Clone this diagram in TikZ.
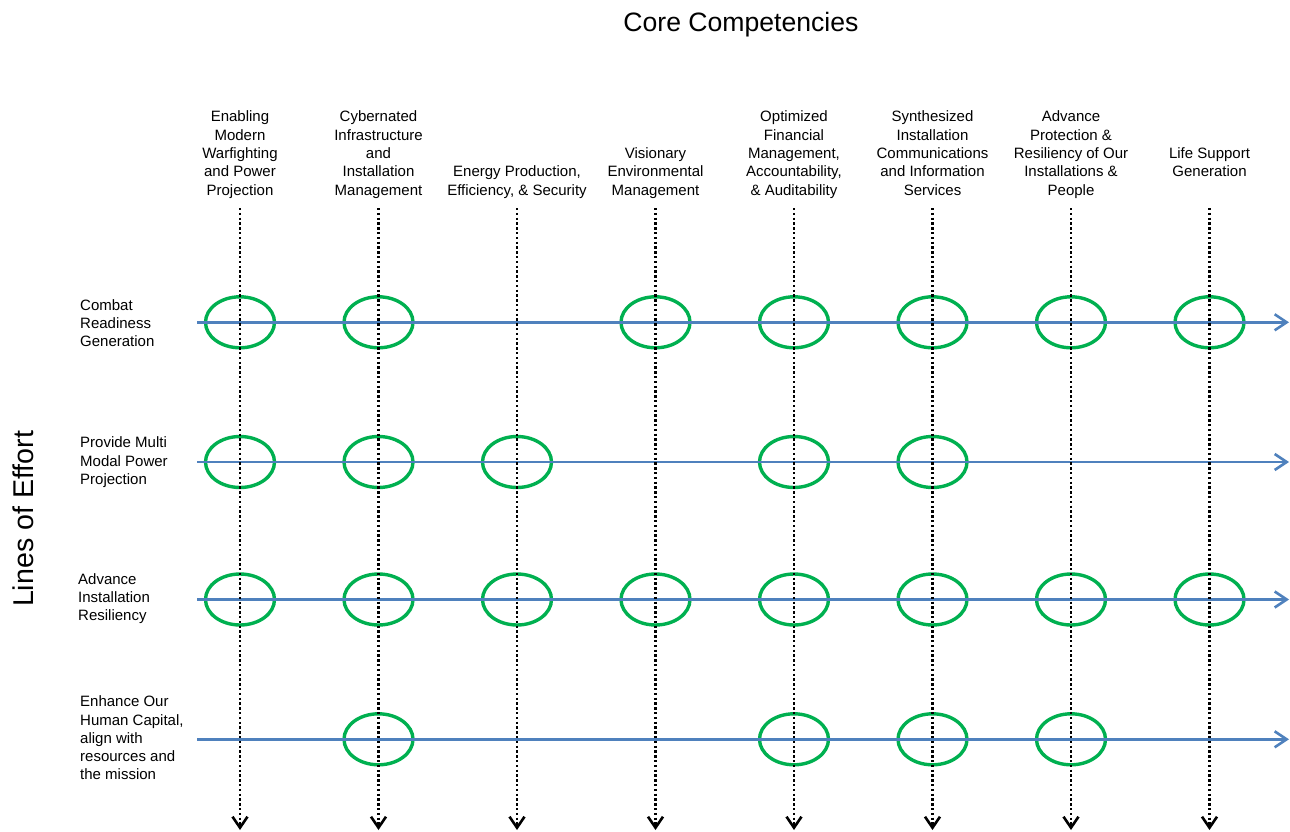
\documentclass[tikz,border=0pt]{standalone}
\usepackage{fontspec}
\setmainfont{Liberation Sans}
\usetikzlibrary{arrows.meta,shapes.geometric}
\definecolor{ringgreen}{RGB}{0,176,80}
\definecolor{loeblue}{RGB}{79,129,189}
\begin{document}
\begin{tikzpicture}[x=1pt,y=-1pt,
  lbl/.style={font=\fontsize{15}{18.3}\selectfont,inner sep=0pt,align=center,anchor=north},
  rowlbl/.style={font=\fontsize{15}{18.3}\selectfont,inner sep=0pt,align=left,anchor=north west},
  bigtxt/.style={font=\fontsize{26.6}{30}\selectfont,inner sep=0pt,anchor=base},
  ring/.style={ellipse,draw=ringgreen,line width=3.4pt,minimum width=69pt,minimum height=51pt,inner sep=0pt},
  hline/.style={draw=loeblue,line width=2.6pt,-{Straight Barb[length=12pt,width=16pt,line width=2.6pt]}},
  vline/.style={draw=black,line width=2.5pt,dash pattern=on 2.4pt off 2.4pt,-{Straight Barb[length=11pt,width=15pt,line width=2.6pt]}}
]
\useasboundingbox (0,0) rectangle (1290,832);
\fill[white] (0,0) rectangle (1290,832);

% titles
\node[bigtxt] (title) at (741,31.7) {Core Competencies};
\node[bigtxt,font=\fontsize{28.6}{32}\selectfont,rotate=90] (loe) at (33.3,519) {Lines of Effort};

% column labels
\def\ta{110.8}
\node[lbl] (c1) at (240,\ta) {Enabling\\Modern\\Warfighting\\and Power\\Projection};
\node[lbl] (c2) at (378.5,\ta) {Cybernated\\Infrastructure\\and\\Installation\\Management};
\node[lbl] (c3) at (517,165.7) {Energy Production,\\Efficiency, \& Security};
\node[lbl] (c4) at (655.5,147.4) {Visionary\\Environmental\\Management};
\node[lbl] (c5) at (794,\ta) {Optimized\\Financial\\Management,\\Accountability,\\\& Auditability};
\node[lbl] (c6) at (932.5,\ta) {Synthesized\\Installation\\Communications\\and Information\\Services};
\node[lbl] (c7) at (1071,\ta) {Advance\\Protection \&\\Resiliency of Our\\Installations \&\\People};
\node[lbl] (c8) at (1209.5,147.4) {Life Support\\Generation};

% row labels
\node[rowlbl] (r1) at (80,299) {Combat\\Readiness\\Generation};
\node[rowlbl] (r2) at (80,436.7) {Provide Multi\\Modal Power\\Projection};
\node[rowlbl] (r3) at (78,573) {Advance\\Installation\\Resiliency};
\node[rowlbl] (r4) at (80,695.7) {Enhance Our\\Human Capital,\\align with\\resources and\\the mission};

% rings
\foreach \c/\x in {1/240,2/378.5,4/655.5,5/794,6/932.5,7/1071,8/1209.5}
  \node[ring] (e1\c) at (\x,322.3) {};
\foreach \c/\x in {1/240,2/378.5,3/517,5/794,6/932.5}
  \node[ring] (e2\c) at (\x,462) {};
\foreach \c/\x in {1/240,2/378.5,3/517,4/655.5,5/794,6/932.5,7/1071,8/1209.5}
  \node[ring] (e3\c) at (\x,599.5) {};
\foreach \c/\x in {2/378.5,5/794,6/932.5,7/1071}
  \node[ring] (e4\c) at (\x,739.3) {};

% horizontal lines of effort
\foreach \r/\y in {1/322.3,2/462,3/599.5,4/739.3}{
  \coordinate (h\r s) at (197,\y);
  \coordinate (h\r e) at (1289,\y);
  \draw[hline] (h\r s) -- (h\r e);
}

% vertical competency lines
\foreach \c/\x in {1/240,2/378.5,3/517,4/655.5,5/794,6/932.5,7/1071,8/1209.5}{
  \coordinate (v\c s) at (\x,208);
  \coordinate (v\c e) at (\x,830);
  \draw[vline] (v\c s) -- (v\c e);
}
\end{tikzpicture}
\end{document}
